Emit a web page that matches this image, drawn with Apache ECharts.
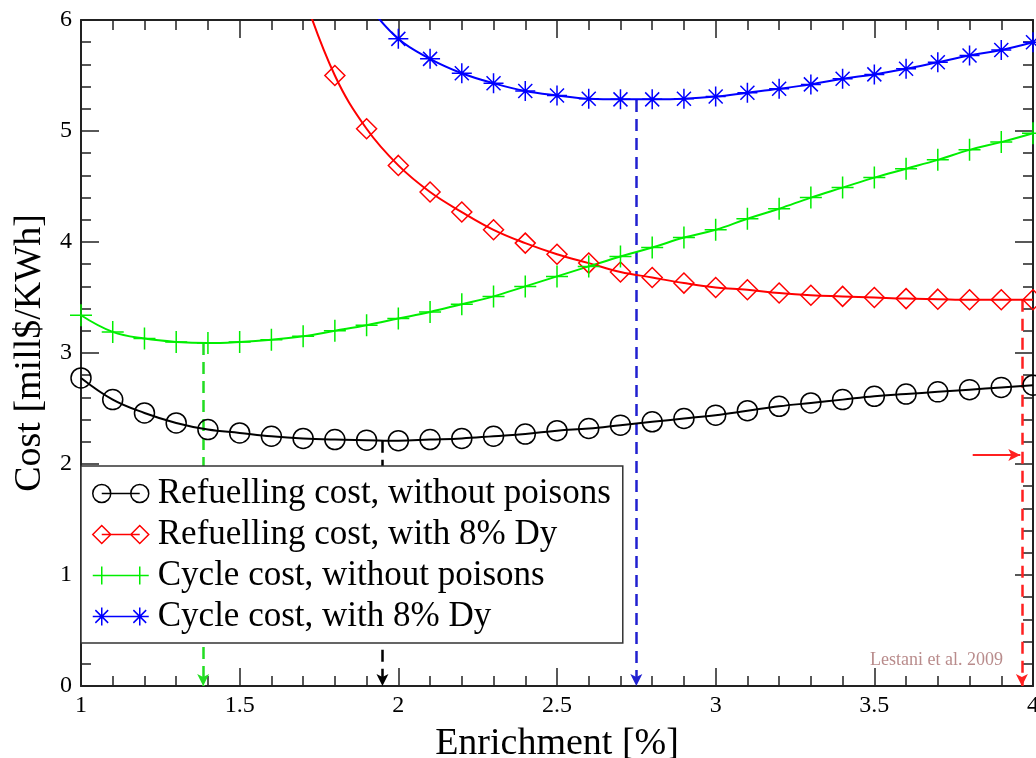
<!DOCTYPE html>
<html>
<head>
<meta charset="utf-8">
<script src="https://cdn.jsdelivr.net/npm/echarts@6/dist/echarts.min.js"></script>
<style>html,body{margin:0;padding:0;background:#fff;}#chart{width:1036px;height:758px;}</style>
</head>
<body>
<div id="chart"></div>
<script>
// Enrichment [%]
const xs = [1.0,1.1,1.2,1.3,1.4,1.5,1.6,1.7,1.8,1.9,2.0,2.1,2.2,2.3,2.4,2.5,2.6,2.7,2.8,2.9,3.0,3.1,3.2,3.3,3.4,3.5,3.6,3.7,3.8,3.9,4.0];
// Refuelling cost, without poisons
const refuelNoPoison = [2.775,2.58,2.46,2.37,2.31,2.28,2.25,2.23,2.22,2.215,2.21,2.22,2.23,2.25,2.27,2.30,2.32,2.35,2.38,2.41,2.44,2.48,2.52,2.55,2.58,2.61,2.63,2.65,2.67,2.69,2.71];
// Refuelling cost, with 8% Dy
const refuelDy = [null,null,null,null,null,null,null,6.24,5.50,5.02,4.69,4.45,4.27,4.11,3.99,3.89,3.81,3.73,3.68,3.63,3.59,3.57,3.54,3.52,3.51,3.50,3.49,3.485,3.48,3.48,3.48];
// Cycle cost, without poisons
const cycleNoPoison = [3.34,3.19,3.13,3.10,3.09,3.10,3.12,3.15,3.20,3.25,3.31,3.37,3.44,3.51,3.60,3.69,3.78,3.87,3.95,4.04,4.11,4.21,4.30,4.40,4.49,4.58,4.66,4.74,4.83,4.90,4.98];
// Cycle cost, with 8% Dy
const cycleDy = [null,null,null,null,null,null,null,null,null,6.15,5.83,5.65,5.52,5.43,5.36,5.32,5.29,5.285,5.285,5.29,5.31,5.345,5.38,5.42,5.47,5.51,5.56,5.62,5.68,5.73,5.80];

const seriesNames = ['Refuelling cost, without poisons','Refuelling cost, with 8% Dy','Cycle cost, without poisons','Cycle cost, with 8% Dy'];
// optimum markers (dashed arrows down to the axis): black, red, green, blue
const optimumX = [1.95, 3.965, 1.385, 2.75];
const optimumY = [2.21, 3.48, 3.09, 5.28];
// small horizontal red arrow
const redArrowX = [3.81, 3.96];
const redArrowY = [2.08, 2.08];

const FONT = '"Liberation Serif","Times New Roman",serif';
const colors = ['#000000','#ff0000','#00ee00','#0000ff'];
const dashColors = ['#000000','#ff2020','#22dd22','#2020d0'];

function pairs(arr){ const out=[]; xs.forEach((x,i)=>{ if(arr[i]!==null) out.push([x,arr[i]]); }); return out; }

const plusPath = 'path://M0,-1V1M-1,0H1';
const starPath = 'path://M0,-1V1M-1,0H1M-0.7,-0.7L0.7,0.7M-0.7,0.7L0.7,-0.7';

const symbols = ['circle','diamond',plusPath,starPath];
const symbolSizes = [20,20,22,20];
const legendIcons = [
  'path://M0,9a9,9 0 1,0 18,0a9,9 0 1,0 -18,0M9,9H47M38,9a9,9 0 1,0 18,0a9,9 0 1,0 -18,0',
  'path://M0,9L9,0L18,9L9,18ZM9,9H47M38,9L47,0L56,9L47,18Z',
  'path://M0,9H56M9,0V18M47,0V18',
  'path://M0,9H56M9,0V18M2.6,2.6L15.4,15.4M2.6,15.4L15.4,2.6M47,0V18M40.6,2.6L53.4,15.4M40.6,15.4L53.4,2.6'
];
const dataArrays = [refuelNoPoison, refuelDy, cycleNoPoison, cycleDy];

const series = dataArrays.map((arr,i)=>({
  name: seriesNames[i],
  type: 'line',
  data: pairs(arr),
  smooth: 0.4,
  clip: true,
  symbol: symbols[i],
  symbolSize: symbolSizes[i],
  showAllSymbol: true,
  lineStyle: {color: colors[i], width: 2},
  itemStyle: {color: 'transparent', borderColor: colors[i], borderWidth: 1.5},
  emphasis: {disabled: true},
  z: 3,
  markLine: {
    silent: true,
    z: 3,
    symbol: ['none','arrow'],
    symbolSize: [9, 12],
    label: {show: false},
    lineStyle: {color: dashColors[i], type: [12,7], width: 2.5},
    data: [[{coord:[optimumX[i], optimumY[i]]},{coord:[optimumX[i], 0]}]].concat(
      i===1 ? [[{coord:[redArrowX[0], redArrowY[0]], lineStyle:{type:'solid', width:2}},{coord:[redArrowX[1], redArrowY[1]]}]] : [])
  }
}));

function xAxisCfg(pos, showLabel){
  return {
    type: 'value', position: pos, min: 1, max: 4, interval: 0.5,
    axisLine: {show: true, onZero: false, lineStyle: {color:'#222', width:2}},
    axisTick: {show: true, inside: true, length: 18, lineStyle: {color:'#222', width: 1.5}},
    minorTick: {show: true, splitNumber: 5, length: 10, lineStyle: {color:'#222', width: 1.5}},
    splitLine: {show: false},
    axisLabel: {show: showLabel, color: '#000', fontFamily: FONT, fontSize: 24, margin: 8},
    name: showLabel ? 'Enrichment [%]' : '',
    nameLocation: 'middle', nameGap: 39,
    nameTextStyle: {color:'#000', fontFamily: FONT, fontSize: 38}
  };
}
function yAxisCfg(pos, showLabel){
  return {
    type: 'value', position: pos, min: 0, max: 6, interval: 1,
    axisLine: {show: true, onZero: false, lineStyle: {color:'#222', width:2}},
    axisTick: {show: true, inside: true, length: 18, lineStyle: {color:'#222', width: 1.5}},
    minorTick: {show: true, splitNumber: 5, length: 10, lineStyle: {color:'#222', width: 1.5}},
    splitLine: {show: false},
    axisLabel: {show: showLabel, color: '#000', fontFamily: FONT, fontSize: 24, margin: 9},
    name: showLabel ? 'Cost [mill$/KWh]' : '',
    nameLocation: 'middle', nameGap: 22,
    nameTextStyle: {color:'#000', fontFamily: FONT, fontSize: 38}
  };
}

const chart = echarts.init(document.getElementById('chart'), null, {renderer: 'canvas'});
chart.setOption({
  backgroundColor: '#ffffff',
  animation: false,
  grid: {left: 81, right: 3, top: 20, bottom: 72, containLabel: false, outerBoundsMode: 'none'},
  xAxis: [xAxisCfg('bottom', true), xAxisCfg('top', false)],
  yAxis: [yAxisCfg('left', true), yAxisCfg('right', false)],
  legend: {
    orient: 'vertical',
    z: 20,
    left: 81, top: 466,
    padding: [10, 12, 9, 11],
    itemWidth: 56, itemHeight: 18, itemGap: 6,
    backgroundColor: '#ffffff',
    borderColor: '#333', borderWidth: 1.5, borderRadius: 0,
    selectedMode: false,
    textStyle: {color: '#000', fontFamily: FONT, fontSize: 35, lineHeight: 34, padding: [0,0,0,4]},
    data: seriesNames.map((n,i)=>({
      name: n, icon: legendIcons[i],
      itemStyle: {color: 'transparent', borderColor: colors[i], borderWidth: 1.5}
    }))
  },
  graphic: [{
    type: 'text', right: 33, top: 651,
    style: {text: 'Lestani et al. 2009', font: '18px ' + FONT, fill: '#b98c8c'}
  }],
  series: series
});
</script>
</body>
</html>
